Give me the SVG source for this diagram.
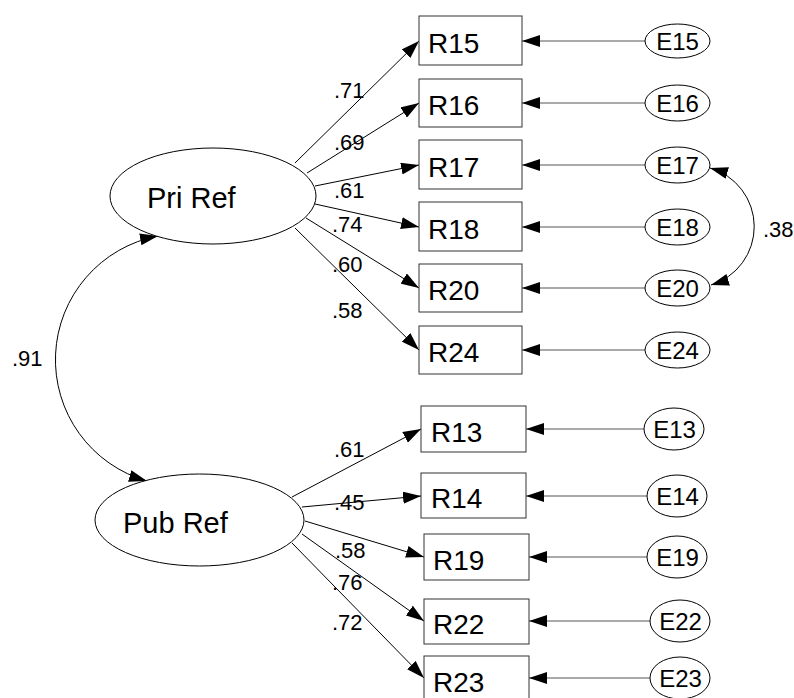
<svg xmlns="http://www.w3.org/2000/svg" width="794" height="698" viewBox="0 0 794 698">
<style>
.box{fill:#fff;stroke:#333;stroke-width:1}
.ell{fill:#fff;stroke:#000;stroke-width:1}
.ln{fill:none;stroke:#000;stroke-width:1}
.res{fill:none;stroke:#555;stroke-width:1}
.t{font-family:"Liberation Sans",Arial,sans-serif;fill:#000}
.bt{font-size:28px}
.lt{font-size:29px}
.et{font-size:24px;text-anchor:middle}
.lab{font-size:22px}
</style>
<defs>
<marker id="ah" markerUnits="userSpaceOnUse" markerWidth="18" markerHeight="12" refX="18" refY="6" orient="auto-start-reverse">
<path d="M0,0 L18,6 L0,12 z" fill="#000"/>
</marker>
</defs>
<g id="connectors">
<line class="ln" x1="295" y1="163" x2="419" y2="41" marker-end="url(#ah)"/>
<line class="ln" x1="307" y1="173" x2="419" y2="103" marker-end="url(#ah)"/>
<line class="ln" x1="315" y1="186" x2="419" y2="165" marker-end="url(#ah)"/>
<line class="ln" x1="315" y1="204" x2="419" y2="227" marker-end="url(#ah)"/>
<line class="ln" x1="306" y1="218" x2="419" y2="288" marker-end="url(#ah)"/>
<line class="ln" x1="295" y1="228" x2="419" y2="350" marker-end="url(#ah)"/>
<line class="ln" x1="292" y1="497" x2="421" y2="429" marker-end="url(#ah)"/>
<line class="ln" x1="302" y1="507" x2="421" y2="496" marker-end="url(#ah)"/>
<line class="ln" x1="305" y1="521" x2="424" y2="557" marker-end="url(#ah)"/>
<line class="ln" x1="302" y1="534" x2="424" y2="621" marker-end="url(#ah)"/>
<line class="ln" x1="292" y1="543" x2="424" y2="678" marker-end="url(#ah)"/>
<line class="res" x1="645" y1="41" x2="522" y2="41" marker-end="url(#ah)"/>
<line class="res" x1="645" y1="103" x2="522" y2="103" marker-end="url(#ah)"/>
<line class="res" x1="645" y1="165" x2="522" y2="165" marker-end="url(#ah)"/>
<line class="res" x1="645" y1="227" x2="522" y2="227" marker-end="url(#ah)"/>
<line class="res" x1="645" y1="288" x2="522" y2="288" marker-end="url(#ah)"/>
<line class="res" x1="645" y1="350" x2="522" y2="350" marker-end="url(#ah)"/>
<line class="res" x1="644" y1="429" x2="526" y2="429" marker-end="url(#ah)"/>
<line class="res" x1="647" y1="496" x2="526" y2="496" marker-end="url(#ah)"/>
<line class="res" x1="647" y1="557" x2="529" y2="557" marker-end="url(#ah)"/>
<line class="res" x1="650" y1="621" x2="529" y2="621" marker-end="url(#ah)"/>
<line class="res" x1="650" y1="678" x2="529" y2="678" marker-end="url(#ah)"/>
<path class="ln" d="M158,236 A126,126 0 0 0 147,481" marker-start="url(#ah)" marker-end="url(#ah)"/>
<path class="ln" d="M710,168 A61,61 0 0 1 711,285" marker-start="url(#ah)" marker-end="url(#ah)"/>
</g>
<g id="labels" class="t lab">
<text x="334" y="98">.71</text>
<text x="334" y="150">.69</text>
<text x="334" y="198">.61</text>
<text x="332" y="232">.74</text>
<text x="332" y="272">.60</text>
<text x="332" y="318">.58</text>
<text x="334" y="457">.61</text>
<text x="334" y="510">.45</text>
<text x="335" y="558">.58</text>
<text x="332" y="590">.76</text>
<text x="332" y="630">.72</text>
<text x="12" y="366">.91</text>
<text x="763" y="237">.38</text>
</g>
<g id="PriRef"><ellipse class="ell" cx="213" cy="196" rx="103" ry="48"/><text class="t lt" x="147" y="208">Pri Ref</text></g>
<g id="PubRef"><ellipse class="ell" cx="199.5" cy="520" rx="104.5" ry="46"/><text class="t lt" x="123" y="533">Pub Ref</text></g>
<g id="R15"><rect class="box" x="419" y="16" width="103" height="49"/><text class="t bt" x="428" y="53">R15</text></g>
<g id="R16"><rect class="box" x="419" y="79" width="103" height="48"/><text class="t bt" x="428" y="115">R16</text></g>
<g id="R17"><rect class="box" x="419" y="140" width="103" height="49"/><text class="t bt" x="428" y="177">R17</text></g>
<g id="R18"><rect class="box" x="419" y="202" width="103" height="49"/><text class="t bt" x="428" y="239">R18</text></g>
<g id="R20"><rect class="box" x="419" y="264" width="103" height="48"/><text class="t bt" x="428" y="300">R20</text></g>
<g id="R24"><rect class="box" x="419" y="326" width="103" height="48"/><text class="t bt" x="428" y="362">R24</text></g>
<g id="R13"><rect class="box" x="421" y="406" width="105" height="46"/><text class="t bt" x="431" y="442">R13</text></g>
<g id="R14"><rect class="box" x="421" y="473" width="105" height="45"/><text class="t bt" x="431" y="508">R14</text></g>
<g id="R19"><rect class="box" x="424" y="534" width="105" height="46"/><text class="t bt" x="433" y="570">R19</text></g>
<g id="R22"><rect class="box" x="424" y="599" width="105" height="45"/><text class="t bt" x="433" y="634">R22</text></g>
<g id="R23"><rect class="box" x="424" y="656" width="105" height="46"/><text class="t bt" x="433" y="692">R23</text></g>
<g id="E15"><ellipse class="ell" cx="677.5" cy="41" rx="32.5" ry="17"/><text class="t et" x="677.5" y="49.5">E15</text></g>
<g id="E16"><ellipse class="ell" cx="677.5" cy="103" rx="32.5" ry="18"/><text class="t et" x="677.5" y="111.5">E16</text></g>
<g id="E17"><ellipse class="ell" cx="677.5" cy="165" rx="32.5" ry="18"/><text class="t et" x="677.5" y="173.5">E17</text></g>
<g id="E18"><ellipse class="ell" cx="677.5" cy="227" rx="32.5" ry="18"/><text class="t et" x="677.5" y="235.5">E18</text></g>
<g id="E20"><ellipse class="ell" cx="677.5" cy="288" rx="32.5" ry="18"/><text class="t et" x="677.5" y="296.5">E20</text></g>
<g id="E24"><ellipse class="ell" cx="677.5" cy="350" rx="32.5" ry="18"/><text class="t et" x="677.5" y="358.5">E24</text></g>
<g id="E13"><ellipse class="ell" cx="674" cy="429" rx="30" ry="21"/><text class="t et" x="674.5" y="437.5">E13</text></g>
<g id="E14"><ellipse class="ell" cx="677" cy="496" rx="30" ry="21"/><text class="t et" x="677.5" y="504.5">E14</text></g>
<g id="E19"><ellipse class="ell" cx="677" cy="557" rx="30" ry="21"/><text class="t et" x="677.5" y="565.5">E19</text></g>
<g id="E22"><ellipse class="ell" cx="680" cy="621" rx="30" ry="21"/><text class="t et" x="680.5" y="629.5">E22</text></g>
<g id="E23"><ellipse class="ell" cx="680" cy="678" rx="30" ry="21"/><text class="t et" x="680.5" y="686.5">E23</text></g>
</svg>
